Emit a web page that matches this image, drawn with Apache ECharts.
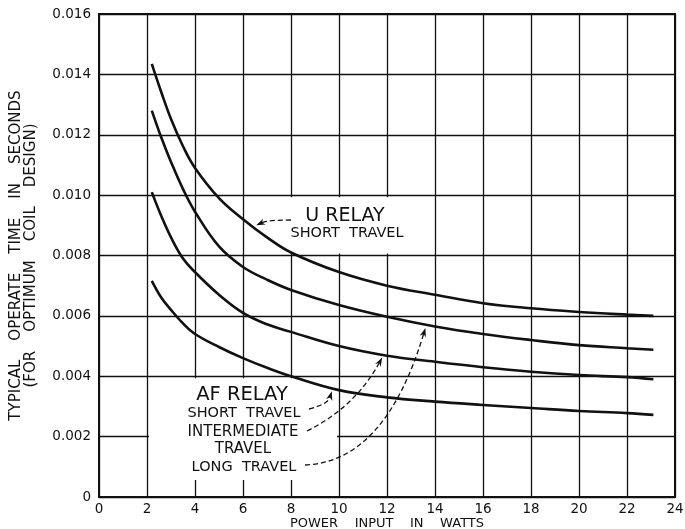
<!DOCTYPE html>
<html>
<head>
<meta charset="utf-8">
<script src="https://cdn.jsdelivr.net/npm/echarts@6/dist/echarts.min.js"></script>
<style>
  html, body { margin: 0; padding: 0; background: #fff; }
  #chart { width: 685px; height: 529px; }
</style>
</head>
<body>
<div id="chart"></div>
<script>
// power input (watts) shared by all curves
var power = [2.2, 2.6, 3, 3.5, 4, 5, 6, 7, 8, 10, 12, 14, 16, 18, 20, 22, 23.1];
// operate time in seconds
var uShort  = [0.01435, 0.0134, 0.01252, 0.01162, 0.0109, 0.0099, 0.0092, 0.0086, 0.0081, 0.00745, 0.0070, 0.0067, 0.00642, 0.00625, 0.00613, 0.00604, 0.0060];
var afLong  = [0.0128, 0.0119, 0.0111, 0.0102, 0.00945, 0.0083, 0.00762, 0.0072, 0.00686, 0.00636, 0.00597, 0.00565, 0.0054, 0.0052, 0.00503, 0.00493, 0.00488];
var afInter = [0.0101, 0.0093, 0.0086, 0.0079, 0.00745, 0.0067, 0.0061, 0.00572, 0.00547, 0.0050, 0.00468, 0.00448, 0.0043, 0.00415, 0.00404, 0.00397, 0.0039];
var afShort = [0.00716, 0.0066, 0.0062, 0.00575, 0.0054, 0.00497, 0.0046, 0.00428, 0.0040, 0.00354, 0.0033, 0.00316, 0.00305, 0.00295, 0.00285, 0.00278, 0.00272];

var font = 'DejaVu Sans';
var ink = '#111';

function pairs(ys) {
  return power.map(function (x, i) { return [x, ys[i]]; });
}
function curve(name, ys) {
  return {
    name: name,
    type: 'line',
    data: pairs(ys),
    smooth: 0.4,
    symbol: 'none',
    lineStyle: { color: ink, width: 2.6 },
    z: 3
  };
}

var chart = echarts.init(document.getElementById('chart'));
chart.setOption({
  animation: false,
  backgroundColor: '#fff',
  grid: {
    left: 99, right: 10, top: 14, bottom: 32,
    outerBoundsMode: 'none',
    show: true, borderColor: ink, borderWidth: 2
  },
  xAxis: {
    type: 'value',
    min: 0, max: 24, interval: 2,
    name: 'POWER    INPUT    IN    WATTS',
    nameLocation: 'middle',
    nameGap: 20,
    nameMoveOverlap: false,
    nameTextStyle: { color: ink, fontFamily: font, fontSize: 13 },
    axisLine: { lineStyle: { color: ink, width: 2 } },
    axisTick: { show: false },
    axisLabel: { color: ink, fontFamily: font, fontSize: 13.5, margin: 5 },
    splitLine: { lineStyle: { color: ink, width: 1.3 } }
  },
  yAxis: {
    type: 'value',
    min: 0, max: 0.016, interval: 0.002,
    name: 'TYPICAL    OPERATE    TIME    IN    SECONDS\n(FOR    OPTIMUM    COIL    DESIGN)',
    nameLocation: 'middle',
    nameRotate: 90,
    nameGap: 60,
    nameMoveOverlap: false,
    nameTextStyle: { color: ink, fontFamily: font, fontSize: 15, lineHeight: 15 },
    axisLine: { lineStyle: { color: ink, width: 2 } },
    axisTick: { show: false },
    axisLabel: {
      color: ink, fontFamily: font, fontSize: 13.5, margin: 8,
      formatter: function (v) { return v === 0 ? '0' : v.toFixed(3); }
    },
    splitLine: { lineStyle: { color: ink, width: 1.3 } }
  },
  series: [
    curve('U relay short travel', uShort),
    curve('AF relay long travel', afLong),
    curve('AF relay intermediate travel', afInter),
    curve('AF relay short travel', afShort)
  ]
});

function px(x, y) { return chart.convertToPixel({ gridIndex: 0 }, [x, y]); }

function mask(a, b) {
  return {
    type: 'rect', z: 1,
    shape: { x: a[0], y: a[1], width: b[0] - a[0], height: b[1] - a[1] },
    style: { fill: '#fff' }
  };
}
function label(text, x, y, size) {
  return {
    type: 'text', z: 5, x: x, y: y,
    style: { text: text, fill: ink, font: size + 'px "' + font + '"', align: 'center', verticalAlign: 'middle' }
  };
}
function arrow(tail, ctrl, tip) {
  var dx = tip[0] - ctrl[0], dy = tip[1] - ctrl[1];
  var len = Math.sqrt(dx * dx + dy * dy), ux = dx / len, uy = dy / len;
  var L = 9, W = 3.2;
  var bx = tip[0] - ux * L, by = tip[1] - uy * L;
  var nx = tip[0] - ux * L * 0.7, ny = tip[1] - uy * L * 0.7;
  return [
    {
      type: 'bezierCurve', z: 4,
      shape: { x1: tail[0], y1: tail[1], x2: nx, y2: ny, cpx1: ctrl[0], cpy1: ctrl[1] },
      style: { stroke: ink, lineWidth: 1.3, lineDash: [5, 3], fill: null }
    },
    {
      type: 'polygon', z: 4,
      shape: { points: [tip, [bx - uy * W, by + ux * W], [nx, ny], [bx + uy * W, by - ux * W]] },
      style: { fill: ink }
    }
  ];
}

var p6a = px(6, 0.010), p14b = px(14, 0.008);
var p2a = px(2, 0.004), p10b = px(10, 0);

var g = [
  mask([p6a[0] + 2, p6a[1] + 2], [p14b[0] - 2, p14b[1] - 2]),
  mask([p2a[0] + 2, p2a[1] + 2], [p10b[0] - 2, p10b[1] - 17]),
  label('U RELAY', 345, 216, 19),
  label('SHORT  TRAVEL', 347, 233, 14.5),
  label('AF RELAY', 242, 395, 19.5),
  label('SHORT  TRAVEL', 244, 413, 14.5),
  label('INTERMEDIATE', 243, 432, 15),
  label('TRAVEL', 243, 449, 15),
  label('LONG  TRAVEL', 244, 467, 14.5)
];
g = g.concat(
  arrow([291, 220], [268, 220], px(6.55, 0.0090)),
  arrow([309, 409], [328, 404], px(9.7, 0.0035)),
  arrow([307, 431], [355, 407], px(11.8, 0.00462)),
  arrow([305, 465], [385, 462], px(13.6, 0.0056))
);

chart.setOption({ graphic: { elements: g } });
</script>
</body>
</html>
